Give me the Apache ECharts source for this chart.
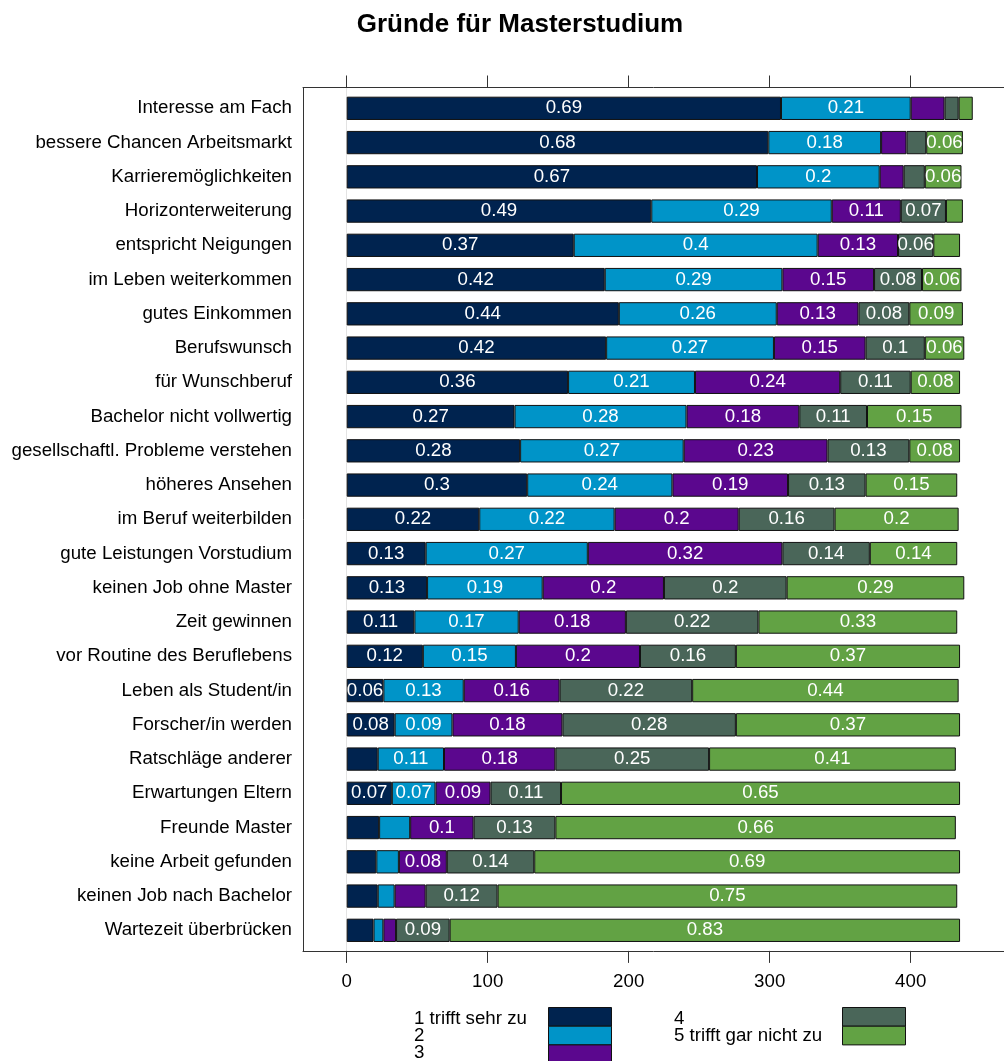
<!DOCTYPE html>
<html>
<head>
<meta charset="utf-8">
<script src="https://cdn.jsdelivr.net/npm/echarts@6/dist/echarts.min.js"></script>
<style>html,body{margin:0;padding:0;background:#fff}#c{width:1004px;height:1061px}</style>
</head>
<body>
<div id="c"></div>
<script>
const titleText = "Gründe für Masterstudium";
const categories = ["Interesse am Fach","bessere Chancen Arbeitsmarkt","Karrieremöglichkeiten","Horizonterweiterung","entspricht Neigungen","im Leben weiterkommen","gutes Einkommen","Berufswunsch","für Wunschberuf","Bachelor nicht vollwertig","gesellschaftl. Probleme verstehen","höheres Ansehen","im Beruf weiterbilden","gute Leistungen Vorstudium","keinen Job ohne Master","Zeit gewinnen","vor Routine des Beruflebens","Leben als Student/in","Forscher/in werden","Ratschläge anderer","Erwartungen Eltern","Freunde Master","keine Arbeit gefunden","keinen Job nach Bachelor","Wartezeit überbrücken"];
const seriesNames = ["1 trifft sehr zu","2","3","4","5 trifft gar nicht zu"];
const s1 = [308,299,291,216,161,183,193,184,157,119,123,128,94,56,57,48,54,26,34,22,32,23,21,22,19];
const s2 = [92,80,87,128,173,126,112,119,90,122,116,103,96,115,82,74,66,57,41,47,31,22,16,12,7];
const s3 = [24,18,17,49,57,65,58,65,103,80,102,82,88,138,86,76,88,68,78,79,39,45,34,22,9];
const s4 = [10,14,15,32,25,34,36,42,50,48,58,55,68,62,87,94,68,94,123,109,50,58,62,51,38];
const s5 = [10,26,26,12,19,28,38,28,35,67,36,65,88,62,126,141,159,189,159,175,283,284,302,326,362];
const xTicks = [0,100,200,300,400];
const colors = ["#00234f","#0094c8","#5b078e","#4a6659","#62a244"];

const FONT = "'Liberation Sans', Arial, sans-serif";
const FS = 18.7;
const allSeries = [s1,s2,s3,s4,s5];
const totals = categories.map((_, i) => allSeries.reduce((a, s) => a + s[i], 0));

const PX = 1.41;
const gridLeft = 303, gridWidth = 701;
const X_MIN = -31, X_MAX = X_MIN + gridWidth / PX;
const pitch = 34.25;
const frameTop = 87.5, frameH = 863.4;

const chart = echarts.init(document.getElementById('c'), null, {renderer: 'canvas'});

const graphics = [{type: 'text', x: 520, y: 25,
  style: {text: titleText, fill: '#000', font: 'bold 26px ' + FONT, textAlign: 'center', textVerticalAlign: 'middle'}}];
const legendPos = [
  {tx: 414, bx: 548, row: 0}, {tx: 414, bx: 548, row: 1}, {tx: 414, bx: 548, row: 2},
  {tx: 674, bx: 842, row: 0}, {tx: 674, bx: 842, row: 1}
];
seriesNames.forEach((n, i) => {
  const p = legendPos[i];
  graphics.push({type: 'rect', left: p.bx, top: 1007 + p.row * 18.7,
    shape: {width: 63, height: 18.7}, style: {fill: colors[i], stroke: '#111', lineWidth: 1}});
  graphics.push({type: 'text', x: p.tx, y: 1019 + p.row * 16.8,
    style: {text: n, fill: '#000', font: FS + 'px ' + FONT, textAlign: 'left', textVerticalAlign: 'middle'}});
});

const tickCommon = {show: true, length: 12, customValues: xTicks, lineStyle: {color: '#333'}};
const option = {
  backgroundColor: '#fff',
  animation: false,
  grid: [
    {left: gridLeft, top: frameTop, width: gridWidth, height: frameH, show: false, containLabel: false},
    {left: gridLeft, top: 91.2, width: gridWidth, height: pitch * categories.length, containLabel: false},
    {left: gridLeft, top: frameTop, width: gridWidth, height: frameH, show: false, containLabel: false}
  ],
  xAxis: [
    {gridIndex: 0, type: 'value', position: 'bottom', min: X_MIN, max: X_MAX,
      axisLine: {show: true, onZero: false, lineStyle: {color: '#333'}}, splitLine: {show: false},
      axisTick: tickCommon,
      axisLabel: {show: true, customValues: xTicks, margin: 21, fontSize: FS, fontFamily: FONT, color: '#000'}},
    {gridIndex: 0, type: 'value', position: 'top', min: X_MIN, max: X_MAX,
      axisLine: {show: true, onZero: false, lineStyle: {color: '#333'}}, splitLine: {show: false},
      axisTick: tickCommon, axisLabel: {show: false}},
    {gridIndex: 1, type: 'value', min: X_MIN, max: X_MAX, show: false},
    {gridIndex: 2, type: 'value', min: X_MIN, max: X_MAX,
      axisLine: {show: false, onZero: false}, axisTick: {show: false}, axisLabel: {show: false}, splitLine: {show: false}}
  ],
  yAxis: [
    {gridIndex: 0, type: 'value', min: 0, max: 1, position: 'left',
      axisLine: {show: true, onZero: false, lineStyle: {color: '#333', width: 1}},
      axisTick: {show: false}, axisLabel: {show: false}, splitLine: {show: false}},
    {gridIndex: 1, type: 'category', data: categories, inverse: true,
      axisLine: {show: false}, axisTick: {show: false}, splitLine: {show: false},
      axisLabel: {margin: 11, fontSize: FS, fontFamily: FONT, color: '#000'}},
    {gridIndex: 2, type: 'value', min: 0, max: 1,
      axisLine: {show: true, onZero: true, onZeroAxisIndex: 3, lineStyle: {color: '#e3e3e3', width: 1}},
      axisTick: {show: false}, axisLabel: {show: false}, splitLine: {show: false}}
  ],
  series: allSeries.map((s, k) => ({
    name: seriesNames[k], type: 'bar', stack: 'total', xAxisIndex: 2, yAxisIndex: 1,
    data: s, barWidth: 23.3, z: 3,
    itemStyle: {color: colors[k], borderColor: '#111', borderWidth: 1},
    label: {show: true, position: 'inside', color: '#fff', fontSize: FS, fontFamily: FONT,
      textBorderWidth: 0, textShadowBlur: 0,
      formatter: (p) => {
        const r = Math.round(p.value / totals[p.dataIndex] * 100) / 100;
        return r >= 0.06 ? String(r) : '';
      }}
  })),
  graphic: graphics
};
chart.setOption(option);
</script>
</body>
</html>
